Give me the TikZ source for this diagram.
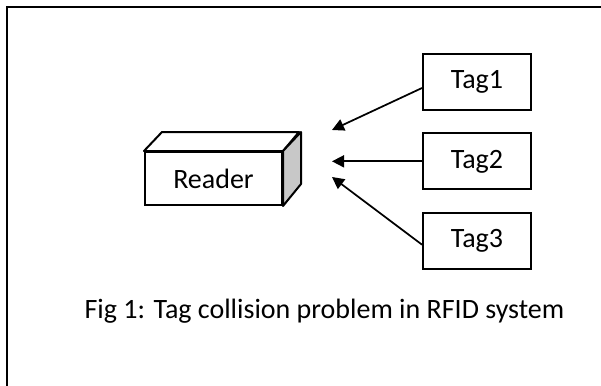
\documentclass[tikz,border=0pt]{standalone}
\usepackage{fontspec}
\setmainfont{Carlito}
\usepackage{tikz}
\usetikzlibrary{positioning,arrows.meta,calc}
\definecolor{SideGray}{RGB}{200,200,200}

\begin{document}
\begin{tikzpicture}[x=0.75pt, y=-0.75pt,
    tagbox/.style={rectangle, draw=black, line width=1.5pt, fill=white, minimum width=81pt, minimum height=42pt, inner sep=0pt, font=\fontsize{21}{25}\selectfont},
    readerbox/.style={rectangle, draw=black, line width=1.5pt, fill=white, minimum width=102.75pt, minimum height=39.75pt, inner sep=0pt, font=\fontsize{21}{25}\selectfont},
    face/.style={draw=black, line width=1.5pt, line join=round},
    arrow/.style={-{Triangle[length=9pt,width=9pt]}, line width=1.3pt}
]
    \useasboundingbox (0,0) rectangle (601,386);
    \clip (0,0) rectangle (601,386);

    % Frame
    \draw[line width=1.8pt] (7,7) rectangle (620,400);

    % Reader
    \node[readerbox] (reader) at (213.5,178.5) {Reader};
    \draw[face, fill=white] (reader.north west) -- ++(18,-19) -- ++(137,0) -- (reader.north east) -- cycle;
    \draw[face, fill=SideGray] (reader.north east) -- ++(18,-19) -- ++(0,52) -- (reader.south east) -- cycle;

    % Tags
    \node[tagbox] (tag1) at (477,82) {Tag1};
    \node[tagbox, below=16pt of tag1] (tag2) {Tag2};
    \node[tagbox, below=16pt of tag2] (tag3) {Tag3};

    % Arrows
    \coordinate (hit1) at (332,130);
    \coordinate (hit2) at (tag2.west -| hit1);
    \coordinate (hit3) at (332,177);
    \draw[arrow] ([yshift=-4.5pt]tag1.west) -- (hit1);
    \draw[arrow] (tag2.west) -- (hit2);
    \draw[arrow] ([yshift=-3pt]tag3.west) -- (hit3);

    % Caption
    \node[font=\fontsize{21}{25}\selectfont, anchor=base] (caption) at (324.5,318) {Fig 1: Tag collision problem in RFID system};
\end{tikzpicture}
\end{document}
